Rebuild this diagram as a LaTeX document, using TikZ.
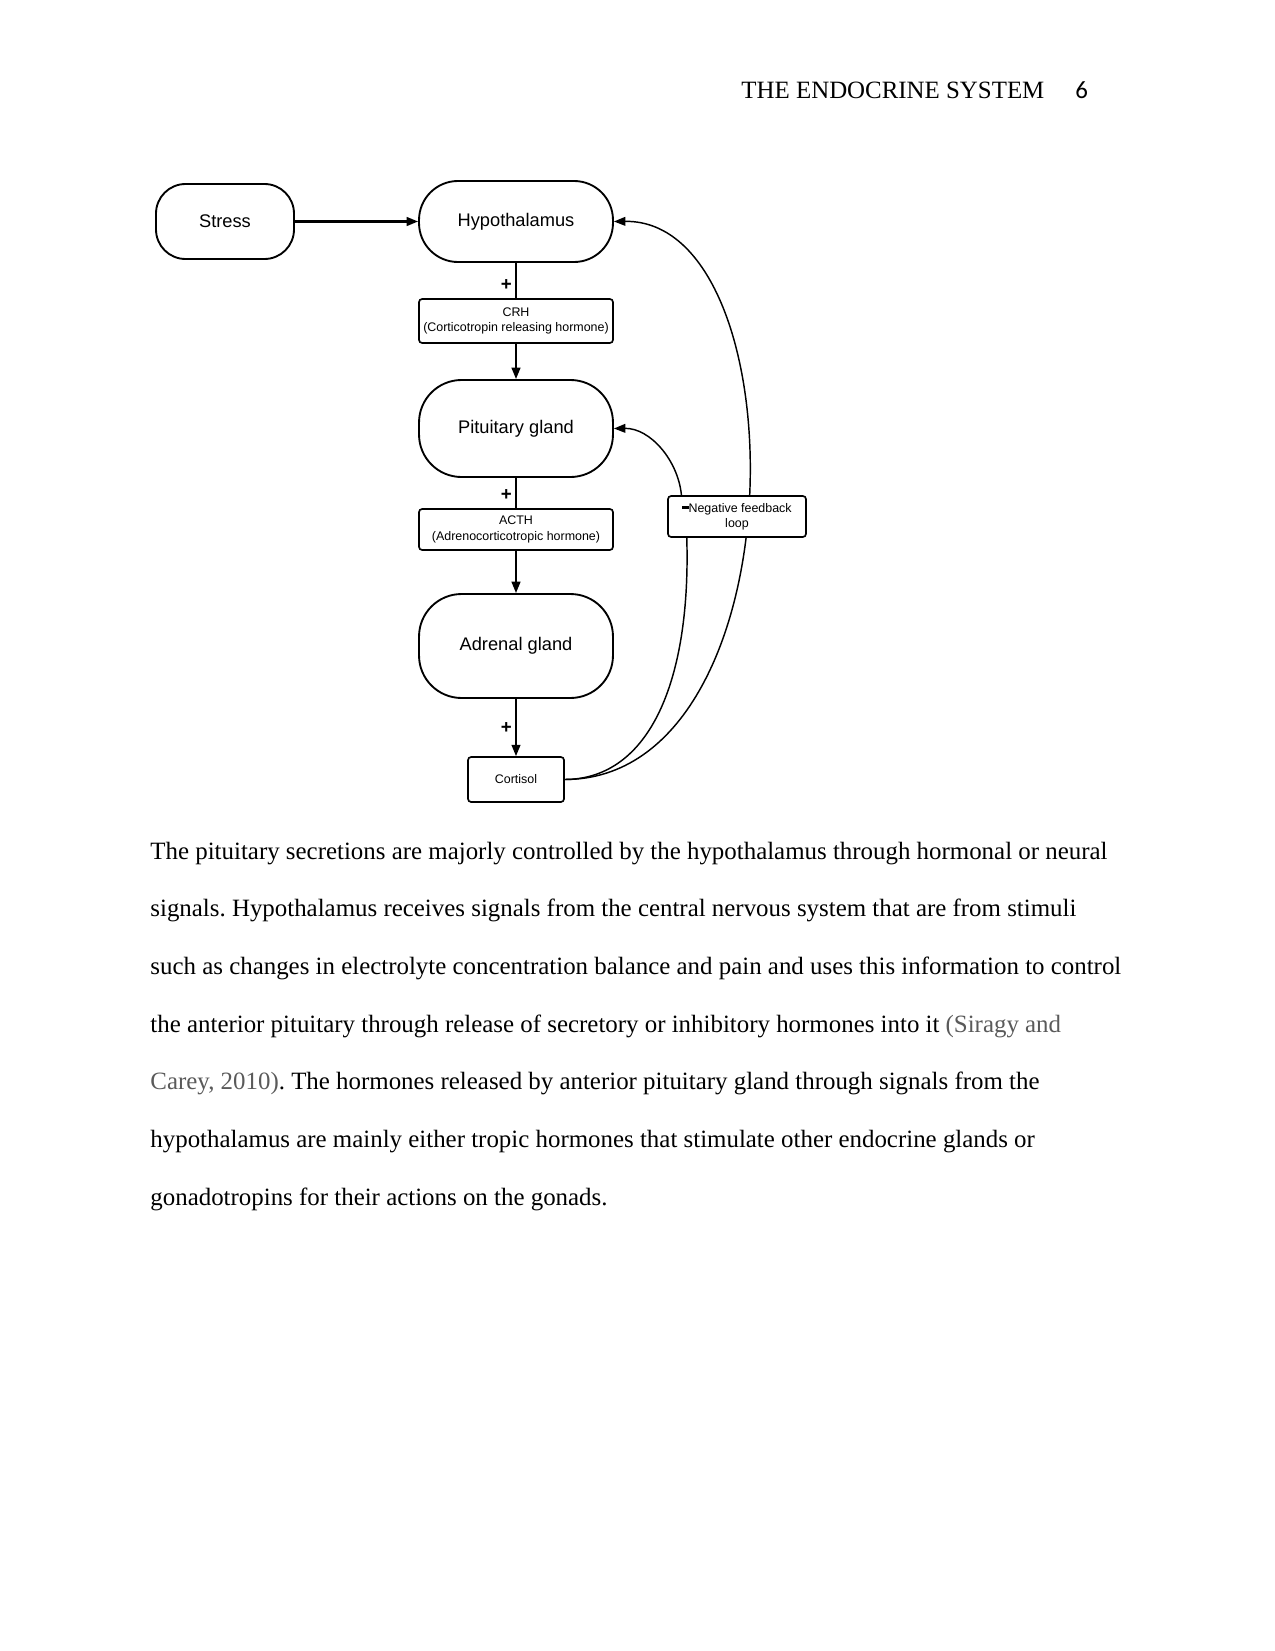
\documentclass[tikz,border=0pt]{standalone}
\usepackage{fontspec}
\usepackage{tikz}
\usetikzlibrary{positioning, arrows.meta, backgrounds}
\setmainfont{Liberation Serif}
\setsansfont{Liberation Sans}
\newfontfamily\pagenumfont{Carlito}
\definecolor{CiteGray}{HTML}{5A5A5A}
\frenchspacing

\tikzset{
  organ/.style={draw, line width=0.9pt, rounded corners=0.72cm, minimum width=3.285cm, inner sep=0pt, font=\sffamily\fontsize{8.8}{10}\selectfont},
  hormone/.style={draw, fill=white, line width=0.8pt, rounded corners=1.5pt, minimum width=3.285cm, inner sep=0pt, align=center, font=\sffamily\fontsize{6}{7.3}\selectfont},
  flow/.style={line width=1pt, -{Triangle[length=5.5pt,width=4.2pt]}},
  link/.style={line width=1pt},
  feedback/.style={line width=0.7pt},
  sign/.style={left=1pt, inner sep=0.5pt, font=\sffamily\bfseries\fontsize{9}{10}\selectfont},
  body/.style={anchor=base west, inner sep=0pt, font=\fontsize{12}{14}\selectfont},
}

\begin{document}
\begin{tikzpicture}[x=0.0169333cm, y=-0.0169333cm]
  \useasboundingbox (0,0) rectangle (1275,1651);
  % Running head
  \node[body] (head) at (741,98) {THE ENDOCRINE SYSTEM};
  \node[body, font=\pagenumfont\fontsize{12}{14}\selectfont] (page) at (1075,98) {6};
  % Organs and hormones
  \node[organ, minimum width=2.337cm, minimum height=1.27cm, rounded corners=0.5cm] (stress) at (225,221.5) {Stress};
  \node[organ, minimum height=1.372cm, rounded corners=0.66cm] (hypo) at (516,221.5) {Hypothalamus};
  \node[hormone, minimum height=0.745cm] (crh) at (516,321) {CRH\\(Corticotropin releasing hormone)};
  \node[organ, minimum height=1.643cm] (pit) at (516,428.5) {Pituitary gland};
  \node[hormone, minimum height=0.694cm] (acth) at (516,529.5) {ACTH\\(Adrenocorticotropic hormone)};
  \node[organ, minimum height=1.761cm] (adrenal) at (516,646) {Adrenal gland};
  \node[hormone, minimum width=1.626cm, minimum height=0.762cm] (cortisol) at (516,779.5) {Cortisol};
  \node[hormone, minimum width=2.337cm, minimum height=0.694cm] (neg) at (737,516.5) {\rule[1.3pt]{3pt}{1.7pt}Negative feedback\\loop};
  % Main axis
  \draw[flow] (stress) -- (hypo);
  \draw[link] (hypo) -- node[sign, yshift=-2pt] (p1) {+} (crh);
  \draw[flow] (crh) -- (pit);
  \draw[link] (pit) -- node[sign, yshift=-1pt] (p2) {+} (acth);
  \draw[flow] (acth) -- (adrenal);
  \draw[flow] (adrenal) -- node[sign] (p3) {+} (cortisol);
  % Feedback
  \begin{scope}[on background layer]
    \draw[feedback, -{Triangle[length=5.5pt,width=4.2pt]}] (cortisol.east) .. controls (801,779) and (801,219) .. (hypo.east);
  \end{scope}
  \draw[feedback] (cortisol.east) .. controls (650,779) and (691,680) .. (neg.203.6);
  \draw[feedback, -{Triangle[length=5.5pt,width=4.2pt]}] (neg.159.2) .. controls (678,460) and (650,428) .. (pit.east);
  % Body text
  \node[body] (l1) at (150,859) {The pituitary secretions are majorly controlled by the hypothalamus through hormonal or neural};
  \node[body] (l2) at (150,916.7) {signals. Hypothalamus receives signals from the central nervous system that are from stimuli};
  \node[body] (l3) at (150,974.4) {such as changes in electrolyte concentration balance and pain and uses this information to control};
  \node[body] (l4) at (150,1032.1) {the anterior pituitary through release of secretory or inhibitory hormones into it {\color{CiteGray}(Siragy and}};
  \node[body] (l5) at (150,1089.8) {{\color{CiteGray}Carey, 2010)}. The hormones released by anterior pituitary gland through signals from the};
  \node[body] (l6) at (150,1147.5) {hypothalamus are mainly either tropic hormones that stimulate other endocrine glands or};
  \node[body] (l7) at (150,1205.2) {gonadotropins for their actions on the gonads.};
\end{tikzpicture}
\end{document}
